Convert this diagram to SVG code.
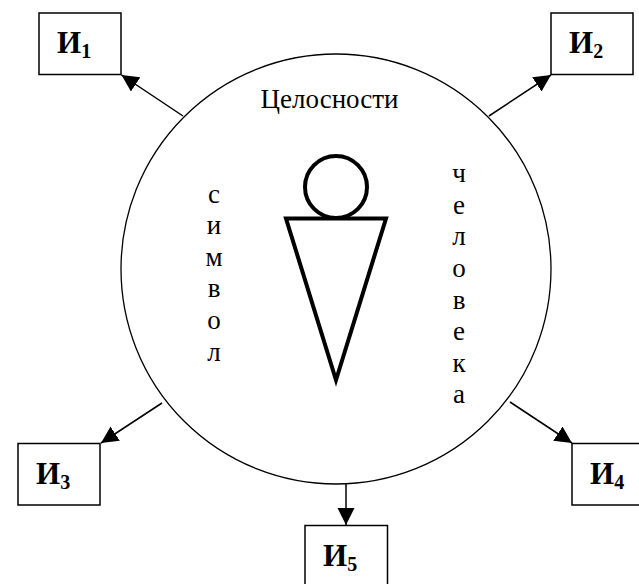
<svg xmlns="http://www.w3.org/2000/svg" width="639" height="584" viewBox="0 0 639 584">
<style>
.box{fill:#fff;stroke:#000;stroke-width:1.5}
.c{fill:none;stroke:#000;stroke-width:1.3}
.fig{fill:none;stroke:#000;stroke-width:4}
.con{stroke:#000;stroke-width:1.5;fill:none;marker-end:url(#a)}
text{font-family:"Liberation Serif","Times New Roman",serif;fill:#000}
.l{font-size:27px;text-anchor:middle}
.i{font-size:31px;font-weight:bold}
.s{font-size:20px;font-weight:bold}
</style>
<defs><marker id="a" markerUnits="userSpaceOnUse" markerWidth="20" markerHeight="18" refX="17" refY="8.5" orient="auto"><path d="M0 0L17 8.5L0 17Z" fill="#000"/></marker></defs>
<rect width="639" height="584" fill="#fff"/>
<g id="symbol">
<circle class="c" cx="336" cy="269" r="215"/>
<text class="l" x="329.5" y="108">Целосности</text>
<circle class="fig" cx="336" cy="187" r="31"/>
<path class="fig" d="M286 218.500H386L336 380Z"/>
<text class="l" x="214" y="203">с</text><text class="l" x="214" y="234">и</text><text class="l" x="214" y="266">м</text><text class="l" x="214" y="297">в</text><text class="l" x="214" y="329">о</text><text class="l" x="214" y="361">л</text>
<text class="l" x="459" y="182">ч</text><text class="l" x="459" y="214">е</text><text class="l" x="459" y="245">л</text><text class="l" x="459" y="277">о</text><text class="l" x="459" y="309">в</text><text class="l" x="459" y="340">е</text><text class="l" x="459" y="372">к</text><text class="l" x="459" y="403">а</text>
</g>
<g id="connectors">
<line class="con" x1="183" y1="116" x2="121.5" y2="75"/>
<line class="con" x1="489" y1="116" x2="551" y2="75"/>
<line class="con" x1="162" y1="403" x2="101" y2="443"/>
<line class="con" x1="510" y1="402" x2="572" y2="443"/>
<line class="con" x1="346" y1="484" x2="346" y2="525"/>
</g>
<g id="n1"><rect class="box" x="39" y="13" width="82" height="61.5"/><text x="57" y="53"><tspan class="i">И</tspan><tspan class="s" dy="5">1</tspan></text></g>
<g id="n2"><rect class="box" x="551" y="13" width="82" height="61.5"/><text x="569" y="53"><tspan class="i">И</tspan><tspan class="s" dy="5">2</tspan></text></g>
<g id="n3"><rect class="box" x="18" y="443.5" width="82" height="61.5"/><text x="36" y="484"><tspan class="i">И</tspan><tspan class="s" dy="5">3</tspan></text></g>
<g id="n4"><rect class="box" x="572" y="443.5" width="82" height="61.5"/><text x="590" y="484"><tspan class="i">И</tspan><tspan class="s" dy="5">4</tspan></text></g>
<g id="n5"><rect class="box" x="305" y="525.5" width="82.5" height="70"/><text x="323" y="566"><tspan class="i">И</tspan><tspan class="s" dy="5">5</tspan></text></g>
</svg>
